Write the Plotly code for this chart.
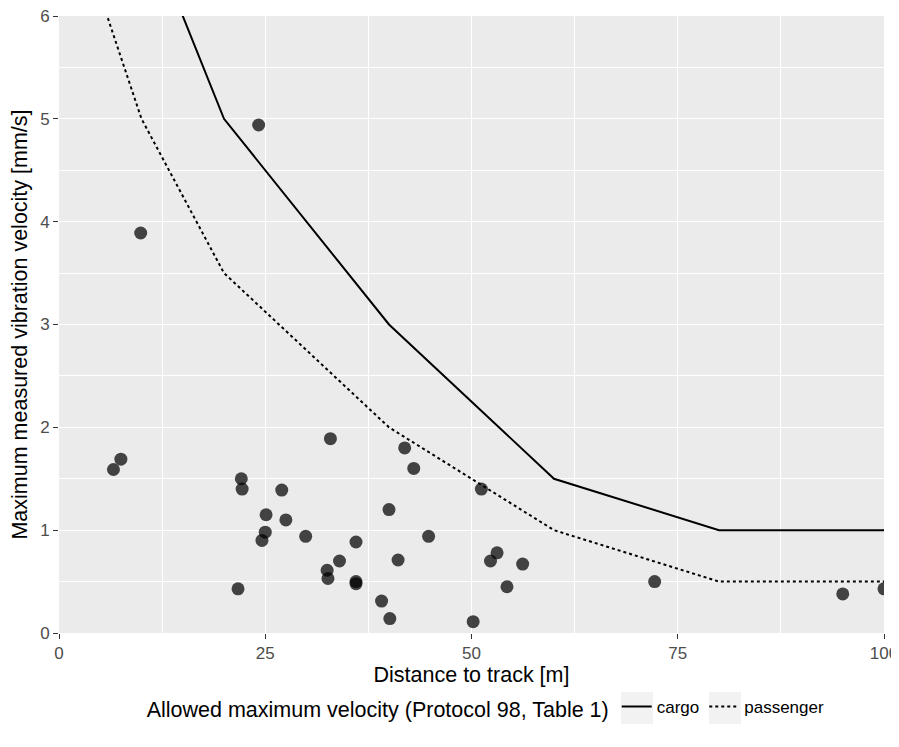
import plotly.graph_objects as go

# Measured points
distance_m = [6.6, 7.5, 9.9, 24.2, 22.1, 22.2, 21.7, 27.0, 25.1, 27.5, 25.0, 24.6,
              29.9, 32.9, 36.0, 34.0, 32.5, 32.6, 36.0, 36.0, 39.1, 40.1, 40.0,
              41.1, 41.9, 43.0, 44.8, 51.2, 50.2, 53.1, 52.3, 56.2, 54.3, 72.2,
              95.0, 100.0]
velocity_mms = [1.59, 1.69, 3.89, 4.94, 1.50, 1.40, 0.43, 1.39, 1.15, 1.10, 0.98, 0.90,
                0.94, 1.89, 0.885, 0.70, 0.61, 0.53, 0.50, 0.48, 0.31, 0.14, 1.20,
                0.71, 1.80, 1.60, 0.94, 1.40, 0.11, 0.78, 0.70, 0.67, 0.45, 0.50,
                0.38, 0.43]

# Allowed maximum velocity (Protocol 98, Table 1)
cargo_x = [10, 20, 40, 60, 80, 100]
cargo_y = [7.0, 5.0, 3.0, 1.5, 1.0, 1.0]
passenger_x = [5, 10, 20, 40, 60, 80, 100]
passenger_y = [6.2, 5.0, 3.5, 2.0, 1.0, 0.5, 0.5]

x_ticks = [0, 25, 50, 75, 100]
y_ticks = [0, 1, 2, 3, 4, 5, 6]

FONT = "Liberation Sans, Arial, sans-serif"

fig = go.Figure()
fig.add_trace(go.Scatter(x=distance_m, y=velocity_mms, mode="markers",
                         marker=dict(color="black", size=13, opacity=0.72, line=dict(width=0)),
                         showlegend=False, hoverinfo="x+y"))
fig.add_trace(go.Scatter(x=cargo_x, y=cargo_y, mode="lines", name="cargo",
                         line=dict(color="black", width=2, dash="solid")))
fig.add_trace(go.Scatter(x=passenger_x, y=passenger_y, mode="lines", name="passenger",
                         line=dict(color="black", width=2, dash="dot")))

axis_common = dict(
    showline=False, zeroline=False, ticks="outside", ticklen=5, tickwidth=1.2,
    tickcolor="#333333", tickfont=dict(family=FONT, size=17, color="#4d4d4d"),
    showgrid=True, gridcolor="white", gridwidth=1.4, automargin=False,
    ticklabeloverflow="allow",
)

# plot area in figure pixels (page has an 8px body margin)
L, R, T, B = 51, 15, 8, 114
W, H = 891, 739
PW, PH = W - L - R, H - T - B

def px_to_paper_x(px):
    return (px - 8 - L) / PW

def px_to_paper_y(py):
    return (H - B - (py - 8)) / PH

# grey legend key backgrounds (ggplot style)
key_shapes = []
for cx in (637, 725):
    key_shapes.append(dict(type="rect", xref="paper", yref="paper", layer="below",
                           x0=px_to_paper_x(cx - 16), x1=px_to_paper_x(cx + 16),
                           y0=px_to_paper_y(708 + 16), y1=px_to_paper_y(708 - 16),
                           fillcolor="#F2F2F2", line=dict(width=0)))

fig.update_layout(
    width=W, height=H,
    margin=dict(l=L, r=R, t=T, b=B, autoexpand=False),
    paper_bgcolor="white", plot_bgcolor="#EBEBEB",
    font=dict(family=FONT, color="black"),
    xaxis=dict(range=[0, 100], tickvals=x_ticks, ticktext=[str(v) for v in x_ticks],
               title=dict(text="Distance to track [m]", font=dict(family=FONT, size=21.5, color="black"),
                          standoff=4),
               minor=dict(showgrid=True, gridcolor="white", gridwidth=0.7, dtick=12.5, tick0=0),
               **axis_common),
    yaxis=dict(range=[0, 6], tickvals=y_ticks, ticktext=[str(v) for v in y_ticks],
               title=dict(text="Maximum measured vibration velocity [mm/s]",
                          font=dict(family=FONT, size=21.5, color="black"), standoff=6),
               minor=dict(showgrid=True, gridcolor="white", gridwidth=0.7, dtick=0.5, tick0=0),
               **axis_common),
    legend=dict(orientation="h", x=0.519, xanchor="center", y=px_to_paper_y(708), yanchor="middle",
                title=dict(text="Allowed maximum velocity (Protocol 98, Table 1)",
                           font=dict(family=FONT, size=21.5, color="black"), side="left"),
                font=dict(family=FONT, size=17, color="black"),
                bgcolor="rgba(0,0,0,0)", itemwidth=30),
    shapes=key_shapes,
)

fig.write_html("out.html")
